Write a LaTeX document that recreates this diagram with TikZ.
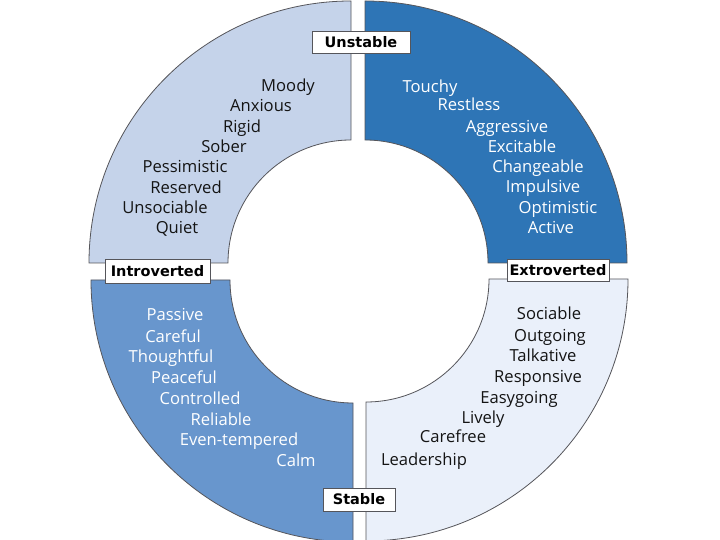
\documentclass[tikz,border=0pt]{standalone}
\usepackage{fontspec}
\setmainfont{Open Sans}
\newfontfamily\labfont{DejaVu Sans}
\definecolor{qtl}{RGB}{197,211,234}
\definecolor{qtr}{RGB}{46,117,182}
\definecolor{qbl}{RGB}{104,150,205}
\definecolor{qbr}{RGB}{234,240,250}
\definecolor{edge}{RGB}{85,85,90}
\definecolor{darktxt}{RGB}{20,20,20}
\begin{document}
\begin{tikzpicture}[x=1pt,y=1pt,
  quad/.style={draw=edge,line width=0.8pt},
  word/.style={anchor=base,inner sep=0pt,font=\fontsize{16.6}{18}\selectfont},
  dword/.style={word,text=darktxt},
  lword/.style={word,text=white},
  axislabel/.style={draw=edge,fill=white,line width=0.9pt,inner sep=0pt,minimum height=22pt,
    font=\labfont\bfseries\fontsize{14.5}{16}\selectfont}]
\useasboundingbox (0,0) rectangle (720,540);
\fill[white] (0,0) rectangle (720,540);
\clip (0,0) rectangle (720,540);
% quadrants (outer radius 262, inner radius 123)
\draw[quad,fill=qtl] (351,400) -- (351,539) arc[start angle=90,end angle=180,radius=262pt]
  -- (228,277) arc[start angle=180,end angle=90,radius=123pt] -- cycle;
\draw[quad,fill=qtr] (365,400) -- (365,539) arc[start angle=90,end angle=0,radius=262pt]
  -- (488,277) arc[start angle=0,end angle=90,radius=123pt] -- cycle;
\draw[quad,fill=qbl] (353,137) -- (353,-2) arc[start angle=270,end angle=180,radius=262pt]
  -- (230,260) arc[start angle=180,end angle=270,radius=123pt] -- cycle;
\draw[quad,fill=qbr] (366,138) -- (366,-1) arc[start angle=270,end angle=360,radius=262pt]
  -- (489,261) arc[start angle=0,end angle=-90,radius=123pt] -- cycle;
% axis labels
\node[axislabel,minimum width=98pt] (unstable) at (361,498) {Unstable};
\node[axislabel,minimum width=105pt,minimum height=24pt] (introverted) at (157.5,269) {Introverted};
\node[axislabel,minimum width=102pt] (extroverted) at (558,270) {Extroverted};
\node[axislabel,minimum width=72pt,minimum height=23pt] (stable) at (359,40.5) {Stable};
% top-left
\node[dword] (w1) at (288,448.3) {Moody};
\node[dword] (w2) at (261,428.3) {Anxious};
\node[dword] (w3) at (242,407.3) {Rigid};
\node[dword] (w4) at (224,387.3) {Sober};
\node[dword] (w5) at (185,367.3) {Pessimistic};
\node[dword] (w6) at (186,346.3) {Reserved};
\node[dword] (w7) at (165,326.3) {Unsociable};
\node[dword] (w8) at (177,306.3) {Quiet};
% top-right
\node[lword] (w9) at (430,447.3) {Touchy};
\node[lword] (w10) at (469,429.3) {Restless};
\node[lword] (w11) at (507,407.3) {Aggressive};
\node[lword] (w12) at (522,387.3) {Excitable};
\node[lword] (w13) at (538,367.3) {Changeable};
\node[lword] (w14) at (543,347.3) {Impulsive};
\node[lword] (w15) at (558,326.3) {Optimistic};
\node[lword] (w16) at (551,306.3) {Active};
% bottom-left
\node[lword] (w17) at (175,219.3) {Passive};
\node[lword] (w18) at (173,197.3) {Careful};
\node[lword] (w19) at (171,177.3) {Thoughtful};
\node[lword] (w20) at (184,156.3) {Peaceful};
\node[lword] (w21) at (200,135.3) {Controlled};
\node[lword] (w22) at (221,114.3) {Reliable};
\node[lword] (w23) at (239,94.3) {Even-tempered};
\node[lword] (w24) at (296,73.3) {Calm};
% bottom-right
\node[dword] (w25) at (549,220.3) {Sociable};
\node[dword] (w26) at (550,198.3) {Outgoing};
\node[dword] (w27) at (543,178.3) {Talkative};
\node[dword] (w28) at (538,157.3) {Responsive};
\node[dword] (w29) at (519,136.3) {Easygoing};
\node[dword] (w30) at (483,116.3) {Lively};
\node[dword] (w31) at (453,97.3) {Carefree};
\node[dword] (w32) at (424,74.3) {Leadership};
\end{tikzpicture}
\end{document}
